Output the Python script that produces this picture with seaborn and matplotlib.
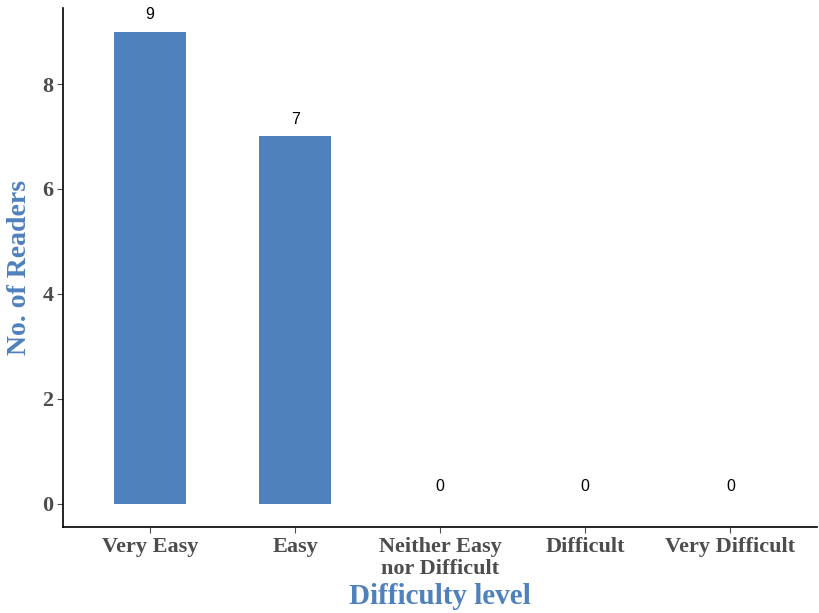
import pandas as pd
import matplotlib
matplotlib.use("Agg")
import matplotlib.pyplot as plt
import seaborn as sns

# data
levels = ["Very Easy", "Easy", "Neither Easy\nnor Difficult", "Difficult", "Very Difficult"]
readers = [9, 7, 0, 0, 0]

df = pd.DataFrame({"level": levels, "readers": readers})

sns.set_style("white")
plt.rcParams["font.family"] = ["Liberation Serif", "DejaVu Serif"]

blue = "#4F81BD"
grey = "#4D4D4D"

fig = plt.figure(figsize=(8.19, 6.13), dpi=100)
ax = fig.add_axes([0.077, 0.14, 0.921, 0.847])

sns.barplot(data=df, x="level", y="readers", color=blue, width=0.5,
            saturation=1, ax=ax, linewidth=0)

# value labels above each bar
for i, v in enumerate(readers):
    ax.annotate(str(v), (i, v), xytext=(0, 7), textcoords="offset points",
                ha="center", va="bottom", fontsize=11.5, color="black",
                family="Liberation Sans")

ax.set_xlim(-0.6, 4.6)
ax.set_ylim(-0.45, 9.45)
ax.set_yticks([0, 2, 4, 6, 8])

for side in ["top", "right"]:
    ax.spines[side].set_visible(False)
for side in ["left", "bottom"]:
    ax.spines[side].set_color("black")
    ax.spines[side].set_linewidth(1.2)

ax.tick_params(axis="both", direction="out", length=4, width=0.8,
               color=grey, labelcolor=grey, labelsize=16, pad=3,
               left=True, bottom=True)
for lbl in ax.get_xticklabels() + ax.get_yticklabels():
    lbl.set_fontweight("bold")
for lbl in ax.get_xticklabels():
    lbl.set_linespacing(1.15)

ax.set_xlabel("Difficulty level", fontsize=21, fontweight="bold", color=blue, labelpad=3)
ax.set_ylabel("No. of Readers", fontsize=20, fontweight="bold", color=blue, labelpad=7)

fig.savefig("out.png", dpi=100)
